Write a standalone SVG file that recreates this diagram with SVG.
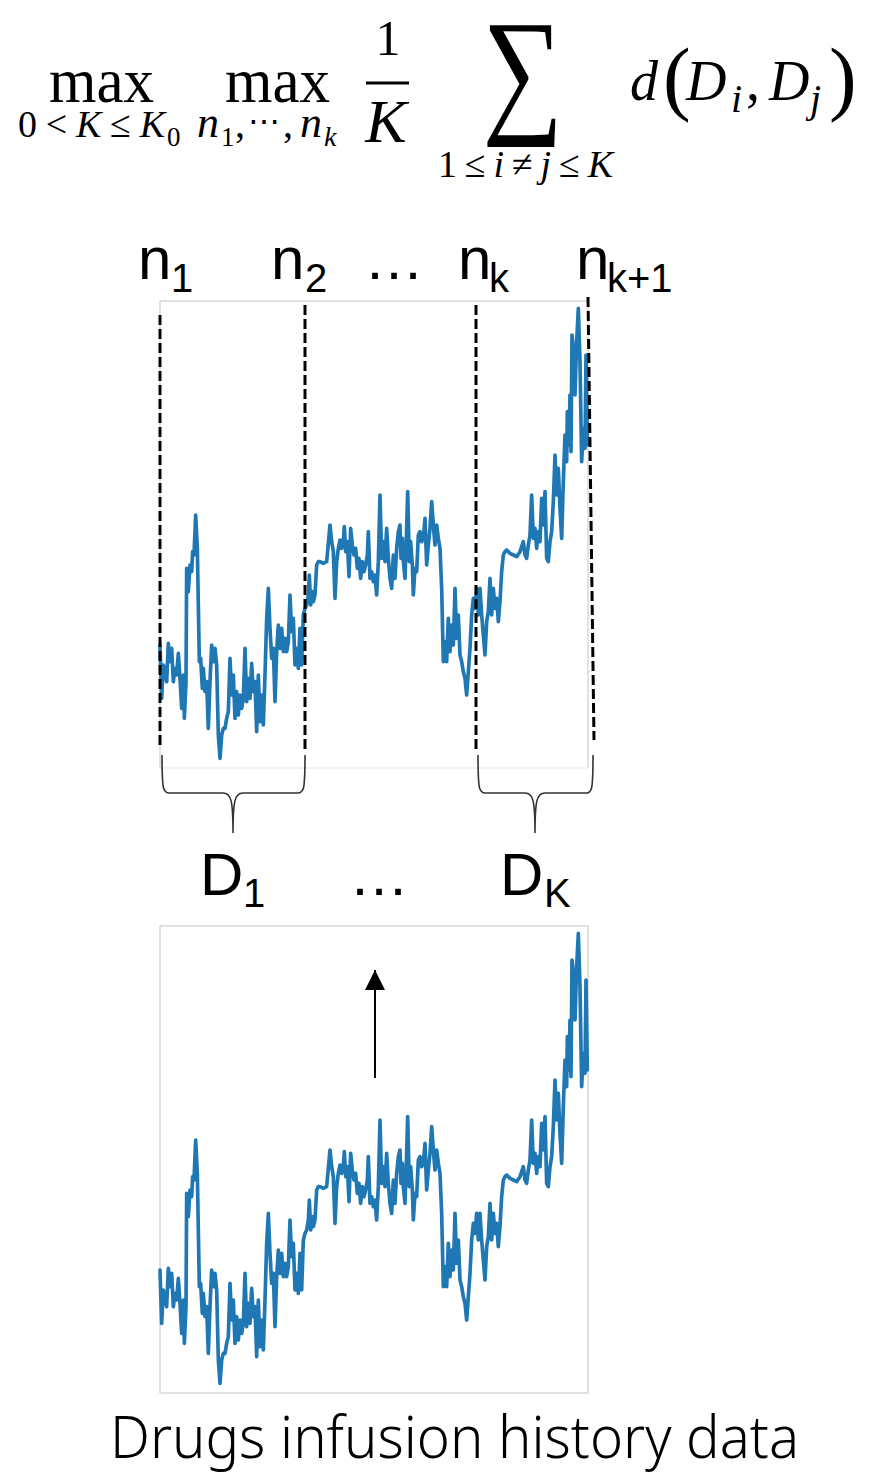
<svg xmlns="http://www.w3.org/2000/svg" xmlns:xlink="http://www.w3.org/1999/xlink" width="870" height="1484" viewBox="0 0 870 1484">
<style>
.m{font-family:"Liberation Serif","Times New Roman",serif;fill:#000}
.i{font-style:italic}
.s{font-family:"Liberation Sans",Arial,sans-serif;fill:#000}
.dash{stroke:#000;stroke-width:3;stroke-dasharray:10 4;fill:none}
.brace{stroke:#333;stroke-width:1.6;fill:none}
.frame{stroke:#c4c4c4;stroke-width:1;fill:none}
.series{fill:none;stroke:#1f77b4;stroke-width:11;stroke-linejoin:round;stroke-linecap:round}
</style>
<defs>
<polyline id="series" points="30,1050 35,1210 40,1110 50,1160 55,1045 60,1100 65,1060 70,1160 75,1120 80,1140 85,1075 90,1150 95,1240 100,1140 103,1270 108,1160 110,820 115,890 120,810 125,830 128,770 132,780 137,660 142,760 148,1100 152,1090 157,1180 160,1120 165,1190 170,1160 175,1300 180,1160 185,1050 190,1100 195,1060 200,1110 205,1320 210,1390 215,1320 220,1300 225,1300 230,1270 235,1250 240,1090 245,1200 250,1140 255,1270 260,1190 265,1260 270,1200 275,1240 280,1210 285,1060 290,1220 295,1150 300,1210 305,1105 310,1190 315,1160 320,1310 325,1140 330,1280 335,1200 340,1290 345,1140 350,970 355,880 360,1000 365,1090 370,1060 375,1220 380,1070 385,990 390,1060 395,1000 400,1070 405,1030 410,1070 415,1040 420,900 425,1010 430,970 435,1110 440,1060 445,1120 450,1000 455,1110 460,960 465,940 470,930 475,900 478,840 482,930 487,890 490,920 495,900 500,810 505,800 510,800 520,805 530,800 540,690 545,740 550,770 555,910 560,800 565,760 570,735 575,760 580,740 583,695 587,770 592,740 597,845 602,700 607,750 612,780 617,760 622,820 627,790 632,850 637,800 642,830 647,810 652,780 655,710 660,850 665,830 670,860 675,840 680,900 685,800 690,600 695,790 700,740 705,800 710,700 715,790 720,850 725,880 730,780 735,850 740,760 745,710 750,690 753,790 757,730 760,800 765,850 770,700 773,590 778,800 782,740 787,810 790,900 795,820 800,830 805,720 810,710 815,740 820,730 825,670 830,810 835,750 840,700 845,620 850,690 855,750 860,690 865,730 870,760 875,880 880,1100 885,1040 890,1100 895,970 900,1070 905,990 910,1050 915,880 920,1030 925,960 930,1080 935,1100 940,1130 945,1150 950,1200 955,1130 960,1060 965,960 970,910 975,940 980,880 985,960 990,880 995,960 1000,1020 1005,1080 1010,980 1015,950 1020,850 1025,960 1030,880 1035,940 1040,910 1045,980 1050,920 1055,830 1060,780 1065,770 1070,765 1080,775 1090,780 1100,785 1110,770 1120,740 1125,780 1130,790 1135,750 1140,720 1145,600 1150,730 1155,700 1160,760 1165,710 1170,740 1175,610 1180,690 1185,590 1190,790 1195,800 1200,740 1205,710 1210,620 1215,480 1220,600 1225,520 1230,640 1235,730 1240,560 1245,420 1250,500 1252,350 1257,450 1260,300 1263,470 1266,120 1270,160 1275,300 1280,140 1285,40 1290,200 1295,500 1300,400 1305,460 1308,180 1312,450"/>
<marker id="ah" viewBox="0 0 10 10" refX="10" refY="5" markerWidth="20" markerHeight="20" markerUnits="userSpaceOnUse" orient="auto">
<path d="M0,0 L10,5 L0,10 z" fill="#000"/>
</marker>
</defs>

<g id="formula">
<text class="m" x="49" y="102" font-size="64" textLength="105" lengthAdjust="spacingAndGlyphs">max</text>
<text class="m" x="18" y="137" font-size="38" textLength="147" lengthAdjust="spacing">0&lt;<tspan class="i">K</tspan>≤<tspan class="i">K</tspan></text>
<text class="m" x="167" y="146" font-size="27">0</text>
<text class="m" x="225" y="102" font-size="64" textLength="105" lengthAdjust="spacingAndGlyphs">max</text>
<text class="m i" x="197" y="137" font-size="44">n</text>
<text class="m" x="221" y="146" font-size="27">1</text>
<text class="m" x="235" y="137" font-size="40">,</text>
<text x="248" y="132" font-size="32" font-family="'DejaVu Serif',serif">⋯</text>
<text class="m" x="283" y="137" font-size="40">,</text>
<text class="m i" x="300" y="137" font-size="44">n</text>
<text class="m i" x="324" y="146" font-size="28">k</text>
<text class="m" x="388" y="55" font-size="50" text-anchor="middle">1</text>
<line x1="366" y1="83" x2="409" y2="83" stroke="#000" stroke-width="3"/>
<text class="m i" x="386" y="142" font-size="62" text-anchor="middle">K</text>
<text class="m" transform="translate(523,117) scale(0.81,1)" x="0" y="0" font-size="140" text-anchor="middle">∑</text>
<text class="m" x="438" y="177" font-size="38" textLength="175" lengthAdjust="spacing">1≤<tspan class="i">i</tspan>≠<tspan class="i">j</tspan>≤<tspan class="i">K</tspan></text>
<text class="m i" x="630" y="100" font-size="56">d</text>
<text class="m" x="663" y="105" font-size="83">(</text>
<text class="m i" x="686" y="100" font-size="56">D</text>
<text class="m i" x="731" y="112" font-size="40">i</text>
<text class="m" x="746" y="100" font-size="56">,</text>
<text class="m i" x="769" y="100" font-size="56">D</text>
<text class="m i" x="810" y="112" font-size="40">j</text>
<text class="m" x="829" y="105" font-size="83">)</text>
</g>

<g id="n-labels">
<text class="s" x="138" y="279" font-size="60">n</text><text class="s" x="171" y="292" font-size="40">1</text>
<text class="s" x="271" y="279" font-size="60">n</text><text class="s" x="305" y="292" font-size="40">2</text>
<text class="s" x="364" y="279" font-size="60">…</text>
<text class="s" x="458" y="279" font-size="60">n</text><text class="s" x="489" y="292" font-size="40">k</text>
<text class="s" x="576" y="279" font-size="60">n</text><text class="s" x="607" y="292" font-size="40">k+1</text>
</g>

<g id="chart-top">
<path class="frame" d="M160,768 V301 H588 V768"/>
<line x1="160" y1="768" x2="588" y2="768" stroke="#e6e6e6" stroke-width="1"/>
<use xlink:href="#series" href="#series" class="series" transform="translate(150,295) scale(0.33333)"/>
</g>

<g id="split-lines">
<line class="dash" x1="160" y1="315" x2="160" y2="748"/>
<line class="dash" x1="305" y1="305" x2="305" y2="750"/>
<line class="dash" x1="476" y1="305" x2="476" y2="752"/>
<line class="dash" x1="588" y1="297" x2="594" y2="740"/>
</g>

<g id="braces">
<path class="brace" d="M162,755 C162,793 163,793 172,793 L223,793 C231,793 233,800 233,833 C233,800 235,793 243,793 L295,793 C304,793 305,793 305,755"/>
<path class="brace" d="M478,755 C478,793 479,793 488,793 L525,793 C533,793 535,800 535,833 C535,800 537,793 545,793 L584,793 C592,793 593,793 593,755"/>
</g>

<g id="d-labels">
<text class="s" x="200" y="895" font-size="60">D</text><text class="s" x="243" y="907" font-size="40">1</text>
<text class="s" x="349" y="895" font-size="60">…</text>
<text class="s" x="500" y="895" font-size="60">D</text><text class="s" x="544" y="907" font-size="40">K</text>
</g>

<g id="chart-bottom">
<rect class="frame" x="160" y="926" width="428" height="467"/>
<use xlink:href="#series" href="#series" class="series" transform="translate(150,920) scale(0.33333)"/>
</g>

<g id="connectors">
<line x1="375" y1="1078" x2="375" y2="970" stroke="#000" stroke-width="2" marker-end="url(#ah)"/>
</g>

<g id="caption">
<text x="110" y="1458" font-size="59" font-family="'Noto Sans','Open Sans',sans-serif" font-weight="300" textLength="689" lengthAdjust="spacingAndGlyphs">Drugs infusion history data</text>
</g>
</svg>
